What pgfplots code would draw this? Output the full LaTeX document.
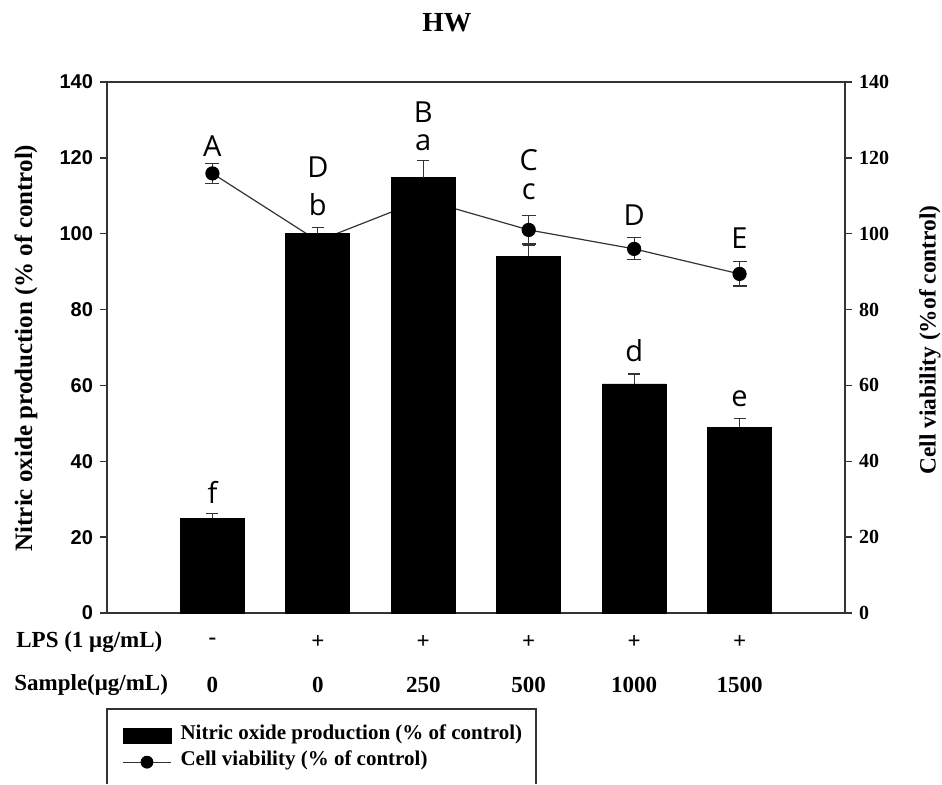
\documentclass[border=0pt]{standalone}
\usepackage{fontspec}
\setmainfont{Liberation Serif}
\setsansfont{Liberation Sans}
\newfontfamily\letterfont{Open Sans}
\usepackage{pgfplots}
\pgfplotsset{compat=1.18}
\begin{document}
\begin{tikzpicture}
\path[use as bounding box] (-53.5pt,-85.5pt) rectangle (417.5pt,306.5pt);
% ---------- right axis: cell viability ----------
\begin{axis}[at={(0pt,0pt)}, anchor=south west, scale only axis,
  width=369pt, height=265.5pt,
  xmin=0, xmax=7, ymin=0, ymax=140,
  axis x line=none, axis y line*=right,
  ytick={0,20,...,140}, tick align=outside, major tick length=3.5pt,
  axis line style={black!80, line width=0.7pt},
  every tick/.style={black!80, line width=0.7pt},
  /pgf/number format/assume math mode=true,
  yticklabel style={font=\bfseries\fontsize{10}{12}\selectfont},
  ylabel={Cell viability (\%of control)},
  ylabel style={at={(axis description cs:1.1152,0.514)}, anchor=center,
    font=\bfseries\fontsize{11.7}{14}\selectfont},
  clip=false]
\addplot[black!80, line width=0.6pt, mark=*, mark size=3.25pt,
  mark options={fill=black, draw=black, solid},
  error bars/.cd, y dir=both, y explicit,
  error bar style={black!80, line width=0.6pt},
  error mark options={rotate=90, black!80, line width=0.6pt, mark size=3.5pt}]
coordinates {
(1,115.9) +- (0,2.6)
(2,98.1) +- (0,1.5)
(3,109.0) +- (0,2.5)
(4,101.0) +- (0,3.7)
(5,96.0) +- (0,2.9)
(6,89.4) +- (0,3.2)
};
\end{axis}
% ---------- left axis: NO production bars ----------
\begin{axis}[at={(0pt,0pt)}, anchor=south west, scale only axis,
  width=369pt, height=265.5pt,
  xmin=0, xmax=7, ymin=0, ymax=140,
  xtick=\empty, ytick={0,20,...,140}, ytick pos=left,
  tick align=outside, major tick length=3.5pt,
  axis line style={black!80, line width=0.7pt},
  every tick/.style={black!80, line width=0.7pt},
  /pgf/number format/assume math mode=true,
  yticklabel style={font=\sffamily\bfseries\fontsize{10}{12}\selectfont},
  ylabel={Nitric oxide production (\% of control)},
  ylabel style={at={(axis description cs:-0.1098,0.499)}, anchor=center,
    font=\bfseries\fontsize{12.5}{15}\selectfont},
  clip=false,
  ybar, bar width=32pt,
  legend cell align=left,
  legend style={at={(axis description cs:0.0203,-0.2047)}, anchor=north west,
    draw=none, fill=none, inner sep=0pt, row sep=0pt, column sep=4.5pt,
    font=\bfseries\fontsize{10.5}{13}\selectfont,
    nodes={inner sep=0pt, text height=8.5pt, text depth=4.85pt}}]
\addplot[fill=black, draw=black, bar shift=0pt,
  legend image code/.code={\fill[black] (0pt,-3.75pt) rectangle (24pt,3.75pt);},
  error bars/.cd, y dir=plus, y explicit,
  error bar style={black!80, line width=0.6pt},
  error mark options={rotate=90, black!80, line width=0.6pt, mark size=3pt}]
coordinates {
(1,25.0) +- (0,1.3)
(2,100.1) +- (0,1.6)
(3,114.8) +- (0,4.4)
(4,94.1) +- (0,2.8)
(5,60.4) +- (0,2.6)
(6,49.0) +- (0,2.3)
};
\addlegendentry{Nitric oxide production (\% of control)}
\addlegendimage{legend image code/.code={\draw[black!80, line width=0.6pt] (0pt,0pt) -- (24pt,0pt); \fill[black] (12pt,0pt) circle (3pt);}}
\addlegendentry{Cell viability (\% of control)}
% significance letters
\begin{scope}[every node/.style={anchor=base, inner sep=0pt, font=\letterfont\fontsize{14.5}{17}\selectfont}]
\node at (axis cs:1,120.3) {A};
\node at (axis cs:2,114.9) {D};
\node at (axis cs:2,104.9) {b};
\node at (axis cs:3,129.3) {B};
\node at (axis cs:3,122.0) {a};
\node at (axis cs:4,116.8) {C};
\node at (axis cs:4,108.9) {c};
\node at (axis cs:5,102.1) {D};
\node at (axis cs:5,66.3) {d};
\node at (axis cs:6,96.1) {E};
\node at (axis cs:6,54.4) {e};
\node at (axis cs:1,28.9) {f};
\end{scope}
% treatment rows
\begin{scope}[every node/.style={anchor=center, inner sep=0pt, font=\bfseries\fontsize{11.5}{14}\selectfont}]
\node at ([yshift=-14.35pt]axis cs:1,0) {-};
\node at ([yshift=-14.35pt]axis cs:2,0) {+};
\node at ([yshift=-14.35pt]axis cs:3,0) {+};
\node at ([yshift=-14.35pt]axis cs:4,0) {+};
\node at ([yshift=-14.35pt]axis cs:5,0) {+};
\node at ([yshift=-14.35pt]axis cs:6,0) {+};
\node at ([yshift=-36pt]axis cs:1,0) {0};
\node at ([yshift=-36pt]axis cs:2,0) {0};
\node at ([yshift=-36pt]axis cs:3,0) {250};
\node at ([yshift=-36pt]axis cs:4,0) {500};
\node at ([yshift=-36pt]axis cs:5,0) {1000};
\node at ([yshift=-36pt]axis cs:6,0) {1500};
\end{scope}
\end{axis}
% title and row headers
\node[font=\bfseries\fontsize{13.8}{16}\selectfont] at (170pt,295pt) {HW};
\node[anchor=west, inner sep=0pt, font=\bfseries\fontsize{11.5}{14}\selectfont] at (-45.5pt,-14.35pt) {LPS (1 μg/mL)};
\node[anchor=west, inner sep=0pt, font=\bfseries\fontsize{11.5}{14}\selectfont] at (-46.5pt,-36pt) {Sample(μg/mL)};
% legend frame (cut off at the bottom edge)
\draw[black!80, line width=0.7pt] (0pt,-85.5pt) -- (0pt,-48pt) -- (214.5pt,-48pt) -- (214.5pt,-85.5pt);
\end{tikzpicture}
\end{document}
